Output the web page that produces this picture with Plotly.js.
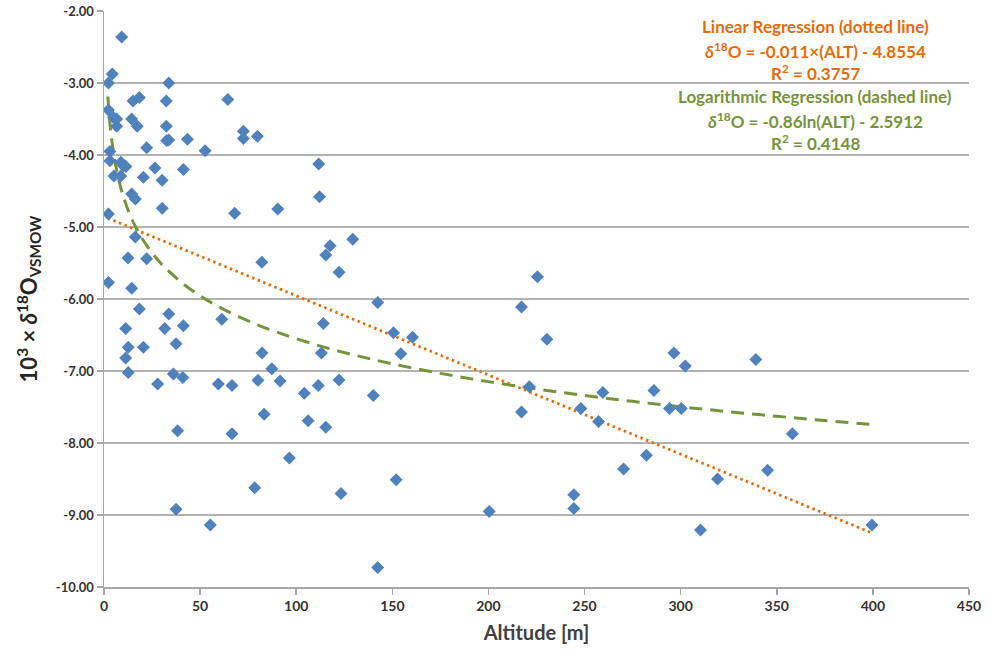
<!DOCTYPE html>
<html><head><meta charset="utf-8">
<script src="https://cdn.plot.ly/plotly-3.0.1.min.js"></script>
<style>html,body{margin:0;padding:0;background:#fff}#chart{width:989px;height:656px}</style>
</head><body><div id="chart"></div>
<script>
// Observed samples: altitude [m]
var altitude = [9.2,4.3,2.3,33.7,15.1,18.4,32.4,64.4,2.3,4.9,6.6,14.4,6.6,17.3,32.4,72.5,72.5,79.8,32.6,33.7,43.4,22.2,52.6,3.1,3.1,8.8,10.1,11.4,26.5,41.3,5.2,8.7,20.5,30.2,14.4,16.3,30.3,2.3,68.0,90.4,16.3,82.1,12.5,22.2,2.3,14.4,
  18.4,33.7,61.3,11.3,31.6,41.3,12.6,20.5,37.5,82.2,11.3,87.3,12.6,36.1,41.0,80.1,91.6,27.9,59.5,66.6,83.3,38.3,66.6,96.4,78.4,37.5,55.3,
  111.7,112.1,129.4,117.6,115.4,122.3,142.4,114.1,150.6,160.5,113.1,154.4,217.2,104.2,111.5,122.3,140.1,221.3,106.2,115.4,217.2,152.0,123.3,200.4,142.4,
  225.5,230.4,296.5,302.4,339.1,259.5,286.1,248.1,294.2,300.3,257.3,358.1,270.3,282.2,319.2,345.2,244.4,244.4,310.3,399.5];
// Observed samples: 10^3 x delta18O
var delta18O = [-2.36,-2.875,-3.0,-3.0,-3.25,-3.2,-3.25,-3.23,-3.375,-3.48,-3.5,-3.5,-3.6,-3.6,-3.6,-3.67,-3.77,-3.74,-3.8,-3.79,-3.78,-3.9,-3.94,-3.95,-4.08,-4.1,-4.15,-4.16,-4.18,-4.2,-4.29,-4.29,-4.31,-4.35,-4.54,-4.61,-4.74,-4.82,-4.81,-4.75,-5.14,-5.49,-5.43,-5.44,-5.77,-5.85,
  -6.14,-6.21,-6.28,-6.41,-6.41,-6.37,-6.67,-6.67,-6.62,-6.75,-6.82,-6.97,-7.02,-7.04,-7.09,-7.13,-7.14,-7.18,-7.18,-7.2,-7.6,-7.83,-7.87,-8.21,-8.62,-8.92,-9.14,
  -4.125,-4.58,-5.17,-5.26,-5.39,-5.63,-6.05,-6.34,-6.47,-6.53,-6.75,-6.76,-6.11,-7.31,-7.2,-7.125,-7.34,-7.22,-7.69,-7.78,-7.57,-8.51,-8.70,-8.95,-9.73,
  -5.69,-6.56,-6.75,-6.93,-6.84,-7.30,-7.27,-7.52,-7.52,-7.52,-7.70,-7.87,-8.36,-8.17,-8.50,-8.38,-8.72,-8.91,-9.21,-9.14];

// Regression coefficients as printed on the chart
var linSlope = -0.011, linIntercept = -4.8554;
var logCoef = -0.86, logIntercept = -2.5912;
var fitX = [2,3,4,5,6,8,10,13,16,20,25,30,40,50,60,75,90,110,130,150,175,200,225,250,275,300,325,350,375,400];
var linY = fitX.map(function(x){return linSlope*x + linIntercept;});
var logY = fitX.map(function(x){return logCoef*Math.log(x) + logIntercept;});

var yTicks = [-2,-3,-4,-5,-6,-7,-8,-9,-10];
var xTicks = [0,50,100,150,200,250,300,350,400,450];

var font = "Lato, 'Open Sans', sans-serif";
var traces = [
  {x: fitX, y: linY, mode:'lines', line:{color:'#E46C0A', width:2.8, dash:'2.5px,3.5px'}, hoverinfo:'skip'},
  {x: fitX, y: logY, mode:'lines', line:{color:'#77933C', width:3, dash:'13px,8px', shape:'spline'}, hoverinfo:'skip'},
  {x: altitude, y: delta18O, mode:'markers', marker:{symbol:'diamond', size:10, color:'#4F81BD', line:{width:0}}}
];
var orange = '#E46C0A', green = '#77933C';
function ann(text, y, color){
  return {x: 370, y: y, xref:'x', yref:'y', text: text, showarrow:false, xanchor:'center', yanchor:'middle',
    font:{family:font, size:17, color:color, weight:'bold'}};
}
var layout = {
  width: 989, height: 656,
  margin:{l:104, r:20, t:11, b:69},
  paper_bgcolor:'#fff', plot_bgcolor:'#fff',
  showlegend:false,
  xaxis:{range:[0,450], tickvals:xTicks, ticktext:xTicks.map(String), showgrid:false, zeroline:false,
    showline:true, linecolor:'#A6A6A6', linewidth:1.5, ticks:'outside', ticklen:6, tickcolor:'#A6A6A6', tickwidth:1.5,
    tickfont:{family:font, size:14, color:'#333333', weight:'bold'},
    title:{text:'Altitude [m]', font:{family:font, size:20, color:'#404040', weight:'bold'}, standoff:12}},
  yaxis:{range:[-10,-2], tickvals:yTicks, ticktext:yTicks.map(function(v){return v.toFixed(2);}), showgrid:true, gridcolor:'#B3B3B3', gridwidth:1.5,
    zeroline:false, showline:true, linecolor:'#A6A6A6', linewidth:1.5, ticks:'outside', ticklen:6, tickcolor:'#A6A6A6', tickwidth:1.5,
    tickfont:{family:font, size:13, color:'#333333', weight:'bold'},
    title:{text:'10<sup>3</sup> × <i>δ</i><sup>18</sup>O<sub>VSMOW</sub>', font:{family:font, size:22, color:'#262626', weight:'bold'}, standoff:12}},
  annotations:[
    ann('Linear Regression (dotted line)', -2.22, orange),
    ann('<i>δ</i><sup>18</sup>O = -0.011×(ALT) - 4.8554', -2.55, orange),
    ann('R<sup>2</sup> = 0.3757', -2.86, orange),
    ann('Logarithmic Regression (dashed line)', -3.19, green),
    ann('<i>δ</i><sup>18</sup>O = -0.86ln(ALT) - 2.5912', -3.52, green),
    ann('R<sup>2</sup> = 0.4148', -3.83, green)
  ]
};
Plotly.newPlot('chart', traces, layout, {displayModeBar:false, staticPlot:true});
</script></body></html>
